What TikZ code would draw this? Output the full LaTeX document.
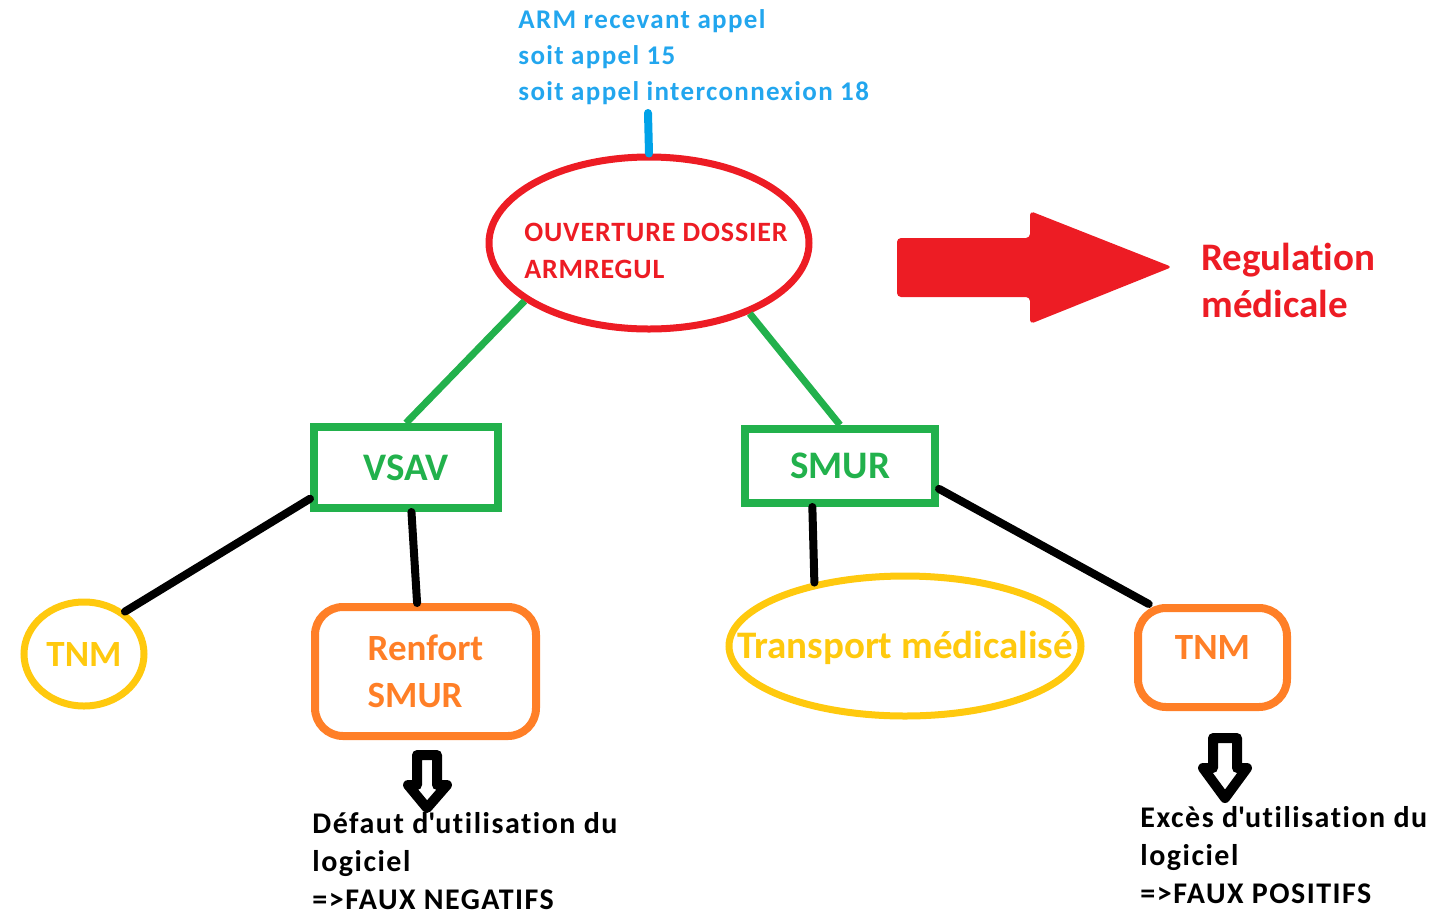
\documentclass[tikz,border=0pt]{standalone}
\usepackage{fontspec}
\setmainfont{Carlito}[Ligatures={TeX,NoCommon}]
\newfontfamily\tracked{Carlito}[LetterSpace=5,Ligatures=NoCommon]
\newfontfamily\trackedcaps{Carlito}[LetterSpace=3,Ligatures=NoCommon]
\usetikzlibrary{shapes.geometric}

\definecolor{paintred}{HTML}{ED1C24}
\definecolor{paintgreen}{HTML}{22B14C}
\definecolor{paintorange}{HTML}{FF7F27}
\definecolor{paintyellow}{HTML}{FFC90E}
\definecolor{paintblue}{HTML}{00A2E8}
\definecolor{armtext}{HTML}{22A6EE}

\begin{document}
\begin{tikzpicture}[x=0.5pt,y=-0.5pt,
    bigtext/.style={font=\bfseries\fontsize{18.5}{23.5}\selectfont},
    smalltext/.style={font=\tracked\bfseries\fontsize{15}{19}\selectfont,
      align=left,anchor=north west,inner sep=0pt},
    hollowarrow/.style={draw,line width=5pt,line join=round}]

      \useasboundingbox (0,0) rectangle (1447,917);

      % appel entrant
      \node[font=\tracked\bfseries\fontsize{13.5}{18}\selectfont,text=armtext,
        align=left,anchor=north west,inner sep=0pt] (arm) at (518,9)
        {ARM recevant appel\\soit appel 15\\soit appel interconnexion 18};
      \coordinate (call) at (648,113);

      \node[ellipse,draw=paintred,line width=3.5pt,inner sep=0pt,
        minimum width=160pt,minimum height=86pt,
        label={[text=paintred,align=left,inner sep=0pt,xshift=3.5pt,yshift=-4pt,
          font=\trackedcaps\bfseries\fontsize{14}{18.5}\selectfont]center:OUVERTURE DOSSIER\\ARMREGUL}]
        (dossier) at (649,243) {};

      \draw[paintblue,line width=4pt,line cap=round] (call) -- (dossier.north);

      % vers la regulation
      \fill[paintred,rounded corners=2pt] (897,238) -- (1030,238) -- (1030,211)
        -- (1172,267) -- (1030,324) -- (1030,297) -- (897,297) -- cycle;
      \node[font=\bfseries\fontsize{19.5}{23.5}\selectfont,text=paintred,
        align=left,anchor=north west,inner sep=0pt] (regul) at (1201,243)
        {Regulation\\médicale};

      \begin{scope}[every node/.style={rectangle,draw=paintgreen,line width=4pt,
          text=paintgreen,font=\bfseries\fontsize{19.5}{23.5}\selectfont}]
        \node[minimum width=92pt,minimum height=40.5pt] (vsav) at (406,467.5) {VSAV};
        \node[minimum width=95pt,minimum height=37pt] (smur) at (840,466) {SMUR};
      \end{scope}

      \begin{scope}[every node/.style={draw=paintyellow,line width=3.5pt,text=paintyellow,
          ellipse,inner sep=0pt,bigtext}]
        \node[minimum width=60pt,minimum height=52pt] (tnmleft) at (84,654) {TNM};
        \node[minimum width=176pt,minimum height=70pt,
          label={[text=paintyellow,font=\bfseries\fontsize{19.5}{23.5}\selectfont,
            yshift=-1pt]center:Transport médicalisé}]
          (transport) at (905,646) {};
      \end{scope}

      \begin{scope}[every node/.style={draw=paintorange,line width=4pt,text=paintorange,
          rounded corners=14pt,bigtext}]
        \node[minimum width=110.5pt,minimum height=64.5pt,align=left]
          (renfort) at (425.5,671.5) {Renfort\\SMUR};
        \node[minimum width=74.5pt,minimum height=49.5pt,
          label={[text=paintorange,bigtext,draw=none,yshift=5pt]center:TNM}]
          (tnmright) at (1212.5,657.5) {};
      \end{scope}

      \begin{scope}[every edge/.style={draw=paintgreen,line width=3.5pt}]
        \path (dossier.205) edge (vsav.north);
        \path (dossier.325) edge (smur.north);
      \end{scope}

      \begin{scope}[every edge/.style={draw,line width=4pt,line cap=round}]
        \path (vsav.198) edge (tnmleft.46);
        \path (vsav.-83) edge (renfort.97);
        \path (smur.236) edge (transport.145);
        \path (smur.-13) edge (tnmright.140);
      \end{scope}

      % consequences
      \draw[hollowarrow] (417,755) -- (437,755) -- (437,785) -- (447,785)
        -- (427,808) -- (408,785) -- (417,785) -- cycle;
      \draw[hollowarrow] (1213,738) -- (1237,738) -- (1237,768) -- (1247,768)
        -- (1225,798) -- (1203,768) -- (1213,768) -- cycle;

      \node[smalltext] (defaut) at (312,812)
        {Défaut d\textquotesingle utilisation du\\logiciel\\=>FAUX NEGATIFS};
      \node[smalltext] (exces) at (1140,806)
        {Excès d\textquotesingle utilisation du\\logiciel\\=>FAUX POSITIFS};

    \end{tikzpicture}
\end{document}
